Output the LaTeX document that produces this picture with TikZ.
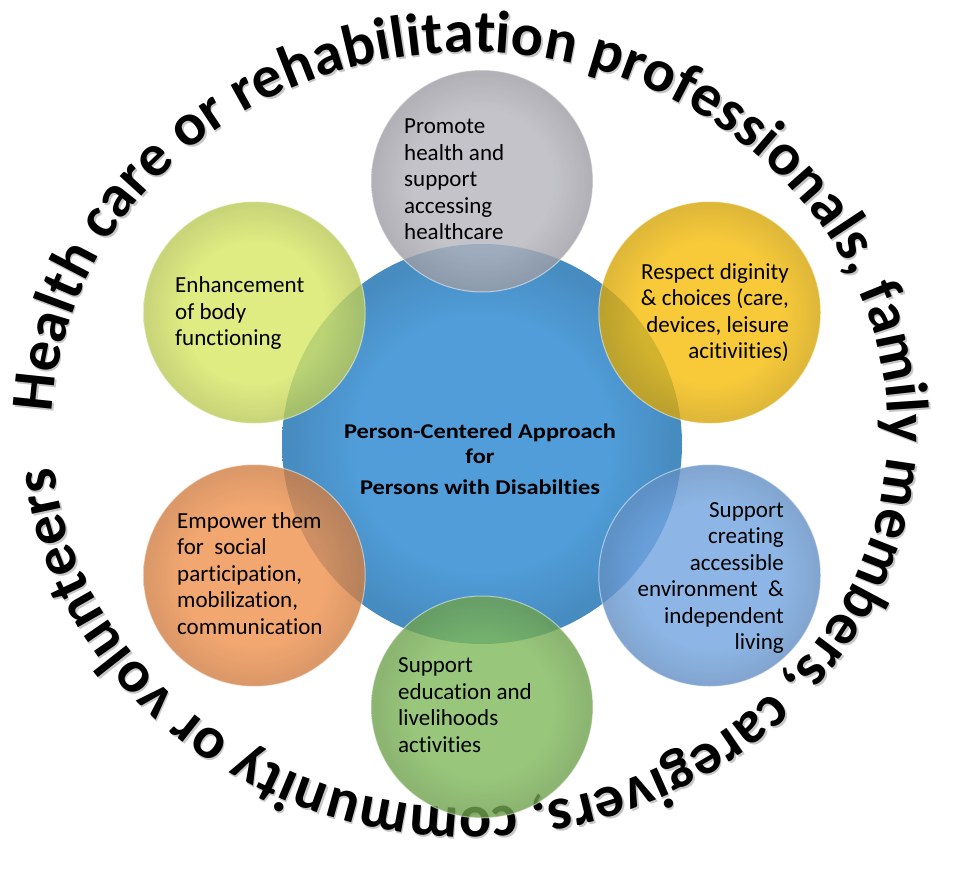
\documentclass[tikz,border=0pt]{standalone}
\usepackage{fontspec}
\setmainfont{Carlito}[Ligatures=NoCommon]
\newfontfamily\outerfont{Carlito}[Ligatures=NoCommon]
\newfontfamily\hubfont{Carlito}[FakeStretch=1.16, Ligatures=NoCommon]
\usetikzlibrary{decorations.text,calc}
\colorlet{cin}{white}
\colorlet{cout}{gray}
\pgfdeclareradialshading[cin,cout]{glow}{\pgfpoint{0bp}{0bp}}{color(0bp)=(cin); color(16bp)=(cin); color(24bp)=(cout); color(25bp)=(cout); color(50bp)=(cout)}
\definecolor{cblue}{RGB}{74,154,216}
\definecolor{cgray}{RGB}{180,180,188}
\definecolor{cyellow}{RGB}{246,189,9}
\definecolor{clblue}{RGB}{113,164,224}
\definecolor{cgreen}{RGB}{126,184,89}
\definecolor{corange}{RGB}{239,144,76}
\definecolor{cygreen}{RGB}{214,231,99}
\tikzset{
  glowcol/.code={\colorlet{cin}{#1}\colorlet{cout}{#1!88!black}},
  sat/.style={circle, inner sep=0pt, minimum size=222bp, shade, shading=glow, glowcol=#1, fill opacity=0.8, draw=white, draw opacity=0.5, line width=1bp},
  hub/.style={circle, inner sep=0pt, minimum size=400bp, shade, shading=glow, glowcol=#1, fill opacity=0.97},
  sattext/.style={inner sep=0pt, font=\fontsize{23bp}{26.5bp}\selectfont},
  ringtext/.style={decorate, decoration={text along path, text align={fit to path},
    text={|\outerfont\bfseries\fontsize{60bp}{60bp}\selectfont #1|Health care or rehabilitation professionals, family members, caregivers, community or volunteers}}}
}
\begin{document}
\begin{tikzpicture}[x=1bp,y=1bp]
\useasboundingbox (0,0) rectangle (957,-871);
% outer ring text (soft shadow, then text)
\path[ringtext=\color{black!22}] (471.5,-432) ++(177.4:418 and 378) arc[start angle=177.4, end angle=-174.4, x radius=418, y radius=378];
\path[ringtext=\color{black}] (470,-430) ++(177.4:418 and 378) arc[start angle=177.4, end angle=-174.4, x radius=418, y radius=378];
% hub
\node[hub=cblue] (hub) at (482,-444) {};
% satellites
\node[sat=cgray]   (s1) at ($(hub)+(90:263)$) {};
\node[sat=cyellow] (s2) at ($(hub)+(30:263)$) {};
\node[sat=clblue]  (s3) at ($(hub)+(-30:263)$) {};
\node[sat=cgreen]  (s4) at ($(hub)+(-90:263)$) {};
\node[sat=corange] (s5) at ($(hub)+(-150:263)$) {};
\node[sat=cygreen] (s6) at ($(hub)+(150:263)$) {};
% texts
\node[inner sep=0pt, align=center, font=\hubfont\bfseries\fontsize{21bp}{25bp}\selectfont] (tc) at (480,-459) {Person-Centered Approach\\for\\[6bp]Persons with Disabilties};
\node[sattext, anchor=west, align=left]  (t1) at (404,-179.5) {Promote\\health and\\support\\accessing\\healthcare};
\node[sattext, anchor=east, align=right] (t2) at (789,-312.5) {Respect diginity\\\& choices (care,\\devices, leisure\\acitiviities)};
\node[sattext, anchor=east, align=right] (t3) at (784,-578) {Support\\creating\\accessible\\environment~~\&\\independent\\living};
\node[sattext, anchor=west, align=left]  (t4) at (398,-705) {Support\\education and\\livelihoods\\activities};
\node[sattext, anchor=west, align=left]  (t5) at (177,-573.5) {Empower them\\for~~social\\participation,\\mobilization,\\communication};
\node[sattext, anchor=west, align=left]  (t6) at (175,-313) {Enhancement\\of body\\functioning};
\end{tikzpicture}
\end{document}
